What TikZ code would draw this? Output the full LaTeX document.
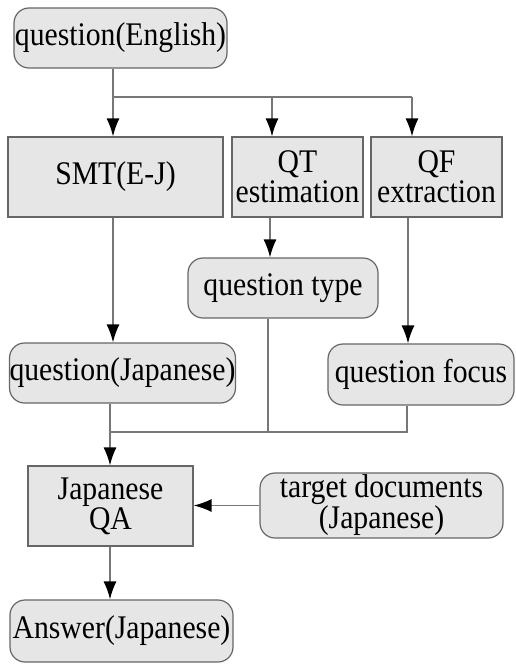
\documentclass[tikz,border=0pt]{standalone}
\usepackage{fontspec}
\setmainfont{Liberation Serif}[FakeStretch=0.9]
\usepackage{xcolor}
\usepackage{tikz}
\usetikzlibrary{arrows.meta,positioning,calc}

\definecolor{boxfill}{HTML}{E6E6E6}
\definecolor{boxline}{HTML}{666666}
\definecolor{wire}{HTML}{777777}

\tikzset{
  proc/.style={draw=boxline,fill=boxfill,rectangle,line width=1.2pt,align=center,inner sep=0pt},
  data/.style={proc,rounded corners=15pt},
  wireline/.style={draw=wire,line width=1.5pt},
  arr/.style={wireline,-{Latex[length=18pt,width=13pt,color=black]}}
}

\begin{document}
\begin{tikzpicture}[x=1pt,y=-1pt,font=\fontsize{33}{30}\selectfont]
\useasboundingbox (0,0) rectangle (516,664);
% question side
\node[data,minimum width=213pt,minimum height=60pt] (qeng) at (120.5,38) {question(English)};
\node[proc,minimum width=215pt,minimum height=80pt] (smt) at (115.5,177) {SMT(E-J)};
\node[proc,minimum width=131pt,minimum height=80pt] (qtest) at (297.5,177) {QT\\estimation};
\node[proc,minimum width=131pt,minimum height=80pt] (qfext) at (436.5,177) {QF\\extraction};
\node[data,minimum width=190pt,minimum height=60pt] (qtype) at (283,288) {question type};
\node[data,minimum width=225pt,minimum height=60pt] (qjap) at (122.5,373) {question(Japanese)};
\node[data,minimum width=186pt,minimum height=61pt] (qfocus) at (421,374.5) {question focus};
% answer side
\node[proc,minimum width=165pt,minimum height=80pt] (jqa) at (110.5,506) {Japanese\\QA};
\node[data,minimum width=243pt,minimum height=65pt] (tdocs) at (381.5,505.5) {target documents\\(Japanese)};
\node[data,minimum width=223pt,minimum height=62pt] (ans) at (121.5,631) {Answer(Japanese)};

% split below the English question
\coordinate (sa) at (113,97);
\coordinate (sb) at (272,97);
\coordinate (sc) at (412,97);
\draw[wireline] (sa |- qeng.south) -- (sa) -- (sc);
\draw[arr] (sa) -- (sa |- smt.north);
\draw[arr] (sb) -- (sb |- qtest.north);
\draw[arr] (sc) -- (sc |- qfext.north);

\draw[arr] (sa |- smt.south) -- (sa |- qjap.north);
\draw[arr] ($(sb |- qtest.south)+(-2,0)$) -- ($(sb |- qtype.north)+(-2,0)$);
\draw[arr] ($(sc |- qfext.south)+(-4,0)$) -- ($(sc |- qfocus.north)+(-4,0)$);

% merge into the Japanese QA
\coordinate (ma) at (110,432);
\coordinate (mb) at (268,432);
\coordinate (mc) at (407,432);
\draw[wireline] (ma |- qjap.south) -- (ma) -- (mc) -- (mc |- qfocus.south);
\draw[wireline] (mb |- qtype.south) -- (mb);
\draw[arr] (ma) -- (ma |- jqa.north);
\draw[arr] (tdocs.west) -- (tdocs.west -| jqa.east);
\draw[arr] (ma |- jqa.south) -- (ma |- ans.north);
\end{tikzpicture}
\end{document}
